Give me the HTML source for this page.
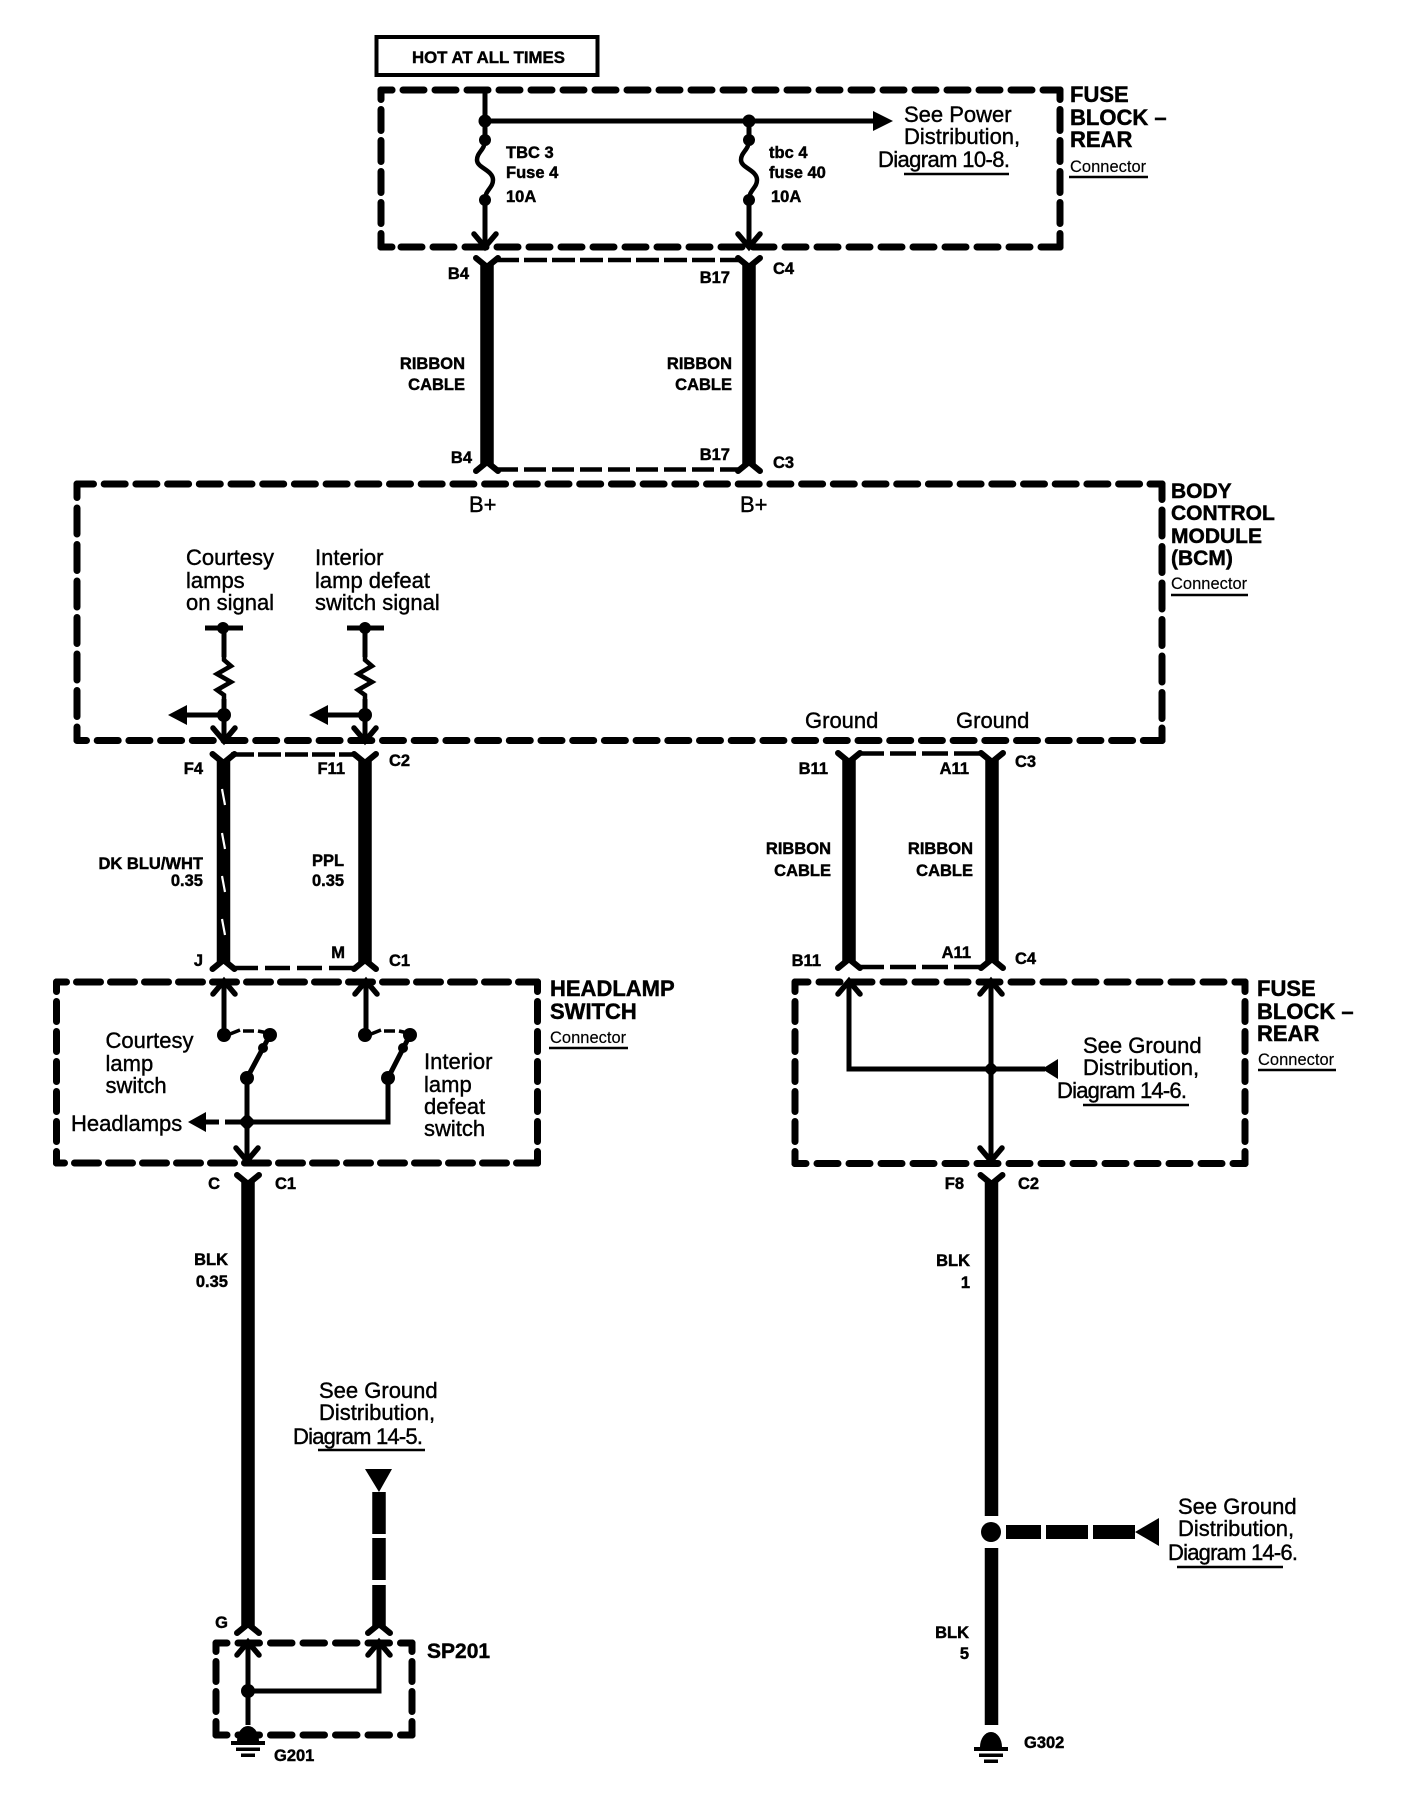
<!DOCTYPE html>
<html><head><meta charset="utf-8"><style>
html,body{margin:0;padding:0;background:#fff}
svg{display:block}
text{font-family:"Liberation Sans",sans-serif;fill:#000}
.b{font-weight:bold;font-size:16.5px;stroke:#000;stroke-width:.45}
.t{font-weight:bold;font-size:22px;stroke:#000;stroke-width:.45}
.r{font-size:22px;stroke:#000;stroke-width:.4}
.c{font-size:16.5px;stroke:#000;stroke-width:.15}
.e{text-anchor:end}
.d{fill:none;stroke:#000;stroke-width:7;stroke-linecap:round}
.s{fill:none;stroke:#000;stroke-width:4.5}
.w{fill:none;stroke:#000;stroke-width:13.5}
.l{fill:none;stroke:#000;stroke-width:5}
.a{fill:none;stroke:#000;stroke-width:5.5;stroke-linecap:round}
.u{fill:none;stroke:#000;stroke-width:2.4}
</style></head><body>
<svg xmlns="http://www.w3.org/2000/svg" width="1408" height="1798" viewBox="0 0 1408 1798">
<rect width="1408" height="1798" fill="#fff"/>
<defs>
<path id="dn" class="a" d="M-11 -13L0 0L11 -13"/>
<path id="up" class="a" d="M-11 13L0 0L11 13"/>
<path id="yt" fill="none" stroke="#000" stroke-width="6" stroke-linecap="round" d="M-11 0L0 9L11 0"/>
<path id="yb" fill="none" stroke="#000" stroke-width="6" stroke-linecap="round" d="M-11 0L0 -9L11 0"/>
<path id="res" fill="none" stroke="#000" stroke-width="4.5" d="M0 0L0 3L7 9L-7 17L7 25L-7 33L0 38L0 42"/>
<path id="fuse" fill="none" stroke="#000" stroke-width="4.5" d="M0 0C0 10 -8 12 -8 20C-8 28 8 30 8 40C8 48 0 50 0 60"/>
<g id="gnd"><path d="M-11 0A11 15 0 0 1 11 0Z"/><rect x="-17" y="0" width="34" height="4"/><rect x="-12" y="6.500" width="24" height="3.500"/><rect x="-7" y="12.500" width="14" height="3.500"/></g>
</defs>

<!-- HOT box -->
<rect x="376.500" y="37" width="221" height="38" fill="none" stroke="#000" stroke-width="4"/>
<text class="b" x="412" y="63" style="font-size:16.800px">HOT AT ALL TIMES</text>

<!-- Fuse block top -->
<path class="d" stroke-dasharray="21 11" stroke-dashoffset="10" d="M381 90H1060"/>
<path class="d" stroke-dasharray="21 11" stroke-dashoffset="12" d="M381 247H1060"/>
<path class="d" stroke-dasharray="21 10" stroke-dashoffset="11.500" d="M381 90V247"/>
<path class="d" stroke-dasharray="21 10" stroke-dashoffset="11.500" d="M1060 90V247"/>
<path class="d" d="M381 90H392M381 90V98M381 247H392M381 247V236M1060 90H1050M1060 90V98M1060 247H1050M1060 247V236"/>
<path class="l" d="M485 90V140M485 200V245M749 121V140M749 200V245"/>
<path class="l" d="M485 121H876"/>
<path d="M873 111L893 121L873 131Z"/>
<use href="#fuse" x="485" y="140"/><use href="#fuse" x="749" y="140"/>
<g><circle cx="485" cy="121" r="6.500"/><circle cx="749" cy="121" r="6.500"/><circle cx="485" cy="140" r="6"/><circle cx="749" cy="140" r="6"/><circle cx="485" cy="200" r="6"/><circle cx="749" cy="200" r="6"/></g>
<use href="#dn" x="485" y="247"/><use href="#dn" x="749" y="247"/>
<text class="b" x="506" y="158">TBC 3</text><text class="b" x="506" y="178">Fuse 4</text><text class="b" x="506" y="202">10A</text>
<text class="b" x="769" y="158">tbc 4</text><text class="b" x="769" y="178">fuse 40</text><text class="b" x="771" y="202">10A</text>
<text class="r" x="904" y="122">See Power</text><text class="r" x="904" y="144">Distribution,</text><text class="r" x="878" y="167" textLength="132">Diagram 10-8.</text>
<path class="u" d="M904 174H1009"/>
<text class="t" x="1070" y="102">FUSE</text><text class="t" x="1070" y="125">BLOCK –</text><text class="t" x="1070" y="147">REAR</text>
<text class="c" x="1070" y="172">Connector</text><path class="u" d="M1069 177H1148"/>

<!-- Ribbon 1 -->
<path class="w" d="M487 264V465M749 264V465"/>
<path class="s" stroke-dasharray="23 5" d="M496 260H740"/>
<path class="s" stroke-dasharray="22 6" d="M496 469.500H740"/>
<use href="#yt" x="487" y="258"/><use href="#yt" x="749" y="258"/><use href="#yb" x="487" y="471"/><use href="#yb" x="749" y="471"/>
<text class="b e" x="469" y="279">B4</text><text class="b e" x="730" y="283">B17</text><text class="b" x="773" y="274">C4</text>
<text class="b e" x="465" y="369">RIBBON</text><text class="b e" x="465" y="390">CABLE</text>
<text class="b e" x="732" y="369">RIBBON</text><text class="b e" x="732" y="390">CABLE</text>
<text class="b e" x="472" y="463">B4</text><text class="b e" x="730" y="460">B17</text><text class="b" x="773" y="468">C3</text>

<!-- BCM -->
<path class="d" stroke-dasharray="21 10.700" stroke-dashoffset="4.500" d="M77 484H1162"/>
<path class="d" stroke-dasharray="21 10.700" stroke-dashoffset="11.500" d="M77 740.500H1162"/>
<path class="d" stroke-dasharray="26 10.500" stroke-dashoffset="12.500" d="M77 484V740"/>
<path class="d" stroke-dasharray="26 10.500" stroke-dashoffset="10.500" d="M1162 484V740"/>
<path class="d" d="M77 740V728M1162 740V728M1162 740.500H1150M1162 484H1150"/>
<text class="r" x="469" y="512">B+</text><text class="r" x="740" y="512">B+</text>
<text class="t" x="1171" y="498" style="font-size:21px">BODY</text><text class="t" x="1171" y="520" style="font-size:21px">CONTROL</text><text class="t" x="1171" y="543" style="font-size:21px">MODULE</text><text class="t" x="1171" y="565" style="font-size:21px">(BCM)</text>
<text class="c" x="1171" y="589">Connector</text><path class="u" d="M1171 595H1248"/>
<text class="r" x="186" y="565">Courtesy</text><text class="r" x="186" y="588">lamps</text><text class="r" x="186" y="610">on signal</text>
<text class="r" x="315" y="565">Interior</text><text class="r" x="315" y="588">lamp defeat</text><text class="r" x="315" y="610">switch signal</text>
<path class="l" d="M205 628H243M224 628V657M224 699V740M187 715H224M347 628H384M365 628V657M365 699V740M328 715H365"/>
<use href="#res" x="224" y="657"/><use href="#res" x="365" y="657"/>
<circle cx="223" cy="628" r="6"/><circle cx="365" cy="628" r="6"/><circle cx="224" cy="715" r="7"/><circle cx="365" cy="715" r="7"/>
<path d="M168 715L187 705V725ZM309 715L328 705V725Z"/>
<use href="#dn" x="224" y="741"/><use href="#dn" x="365" y="741"/>

<!-- F4 F11 wires -->
<path class="w" d="M223.500 760V964M365 760V964"/>
<path class="s" stroke-dasharray="23 4" d="M231 754.500H356"/>
<path class="s" stroke-dasharray="25 7" d="M233 968H356"/>
<use href="#yt" x="223.500" y="754"/><use href="#yt" x="365" y="754"/><use href="#yb" x="223.500" y="969"/><use href="#yb" x="365" y="969"/>
<path fill="none" stroke="#fff" stroke-width="2.200" d="M222 789L225 805M222 833L225 849M222 876L225 892M222 919L225 935"/>
<text class="b e" x="203" y="774">F4</text><text class="b e" x="345" y="774">F11</text><text class="b" x="389" y="766">C2</text>
<text class="b e" x="203" y="869">DK BLU/WHT</text><text class="b e" x="203" y="886">0.35</text>
<text class="b" x="312" y="866">PPL</text><text class="b" x="312" y="886">0.35</text>
<text class="b e" x="203" y="966">J</text><text class="b e" x="345" y="958">M</text><text class="b" x="389" y="966">C1</text>

<!-- Headlamp switch -->
<path class="d" stroke-dasharray="24 10" stroke-dashoffset="14" d="M56.500 982H537.500"/>
<path class="d" stroke-dasharray="24 10" stroke-dashoffset="16" d="M56.500 1163H537.500"/>
<path class="d" stroke-dasharray="20 10" stroke-dashoffset="10.500" d="M56.500 982V1163"/>
<path class="d" stroke-dasharray="20 10" stroke-dashoffset="10.500" d="M537.500 982V1163"/>
<path class="d" d="M56.500 1163V1152M537.500 1163V1152M537.500 982H528M537.500 1163H528"/>
<use href="#up" x="224" y="981"/><use href="#up" x="366" y="981"/>
<path class="l" d="M224 981V1035M366 981V1035M247 1078V1160M225 1122H388V1078M202 1122H219"/>
<path class="l" d="M270 1035L247 1078M410 1035L388 1078"/>
<path fill="none" stroke="#000" stroke-width="3.500" d="M230 1034L240 1030M243 1031H254M258 1031L268 1033M371 1034L381 1030M384 1031H395M399 1031L408 1033"/>
<circle cx="224" cy="1035" r="7"/><circle cx="270" cy="1035" r="7"/><circle cx="263" cy="1048" r="5"/><circle cx="247" cy="1078" r="7"/>
<circle cx="365" cy="1035" r="7"/><circle cx="410" cy="1035" r="7"/><circle cx="403" cy="1048" r="5"/><circle cx="388" cy="1078" r="7"/>
<path d="M247 1113L256 1122L247 1131L238 1122Z"/>
<path d="M188 1122L206 1112V1132Z"/>
<use href="#dn" x="247" y="1161"/>
<text class="r" x="105.500" y="1048">Courtesy</text><text class="r" x="105.500" y="1071">lamp</text><text class="r" x="105.500" y="1093">switch</text>
<text class="r" x="424" y="1069">Interior</text><text class="r" x="424" y="1092">lamp</text><text class="r" x="424" y="1114">defeat</text><text class="r" x="424" y="1136">switch</text>
<text class="r" x="71" y="1131">Headlamps</text>
<text class="t" x="550" y="996">HEADLAMP</text><text class="t" x="550" y="1019">SWITCH</text>
<text class="c" x="550" y="1043">Connector</text><path class="u" d="M549 1048H628"/>

<!-- Lower left -->
<path class="w" d="M248 1181V1627"/><use href="#yt" x="248" y="1175"/><use href="#yb" x="248" y="1633"/>
<text class="b e" x="220" y="1189">C</text><text class="b" x="275" y="1189">C1</text>
<text class="b e" x="228" y="1265">BLK</text><text class="b e" x="228" y="1287">0.35</text>
<text class="r" x="319" y="1398">See Ground</text><text class="r" x="319" y="1420">Distribution,</text><text class="r" x="293" y="1444" textLength="130">Diagram 14-5.</text>
<path class="u" d="M318 1450H425"/>
<path d="M365 1469H392L379 1492Z"/>
<path class="w" d="M379 1492V1534M379 1538V1580M379 1585V1627"/><use href="#yb" x="379" y="1633"/>
<text class="b e" x="228" y="1628">G</text>

<!-- SP201 -->
<path class="d" stroke-dasharray="21.500 11" stroke-dashoffset="10.500" d="M216 1643H412"/>
<path class="d" stroke-dasharray="21.500 11" stroke-dashoffset="10.500" d="M216 1735H412"/>
<path class="d" stroke-dasharray="20 10" stroke-dashoffset="11.500" d="M216 1643V1735"/>
<path class="d" stroke-dasharray="20 10" stroke-dashoffset="11.500" d="M412 1643V1735"/>
<path class="d" d="M216 1735V1725M412 1735V1725M412 1735H402M412 1643H402"/>
<use href="#up" x="248" y="1642"/><use href="#up" x="379" y="1642"/>
<path class="l" d="M248 1642V1725M379 1642V1691H248"/>
<circle cx="248" cy="1691" r="7"/>
<use href="#gnd" x="248" y="1741"/>
<text class="t" x="427" y="1658" style="font-size:21px">SP201</text>
<text class="b" x="274" y="1761">G201</text>

<!-- Right ribbon -->
<text class="r" x="805" y="728">Ground</text><text class="r" x="956" y="728">Ground</text>
<path class="w" d="M849 759V963M992 759V963"/>
<path class="s" stroke-dasharray="26 6" d="M858 753.500H983"/>
<path class="s" stroke-dasharray="26 6" d="M858 967H983"/>
<use href="#yt" x="849" y="753"/><use href="#yt" x="992" y="753"/><use href="#yb" x="849" y="968"/><use href="#yb" x="992" y="968"/>
<text class="b e" x="828" y="774">B11</text><text class="b e" x="969" y="774">A11</text><text class="b" x="1015" y="767">C3</text>
<text class="b e" x="831" y="854">RIBBON</text><text class="b e" x="831" y="876">CABLE</text>
<text class="b e" x="973" y="854">RIBBON</text><text class="b e" x="973" y="876">CABLE</text>
<text class="b e" x="821" y="966">B11</text><text class="b e" x="971" y="958">A11</text><text class="b" x="1015" y="964">C4</text>

<!-- Fuse block lower -->
<path class="d" stroke-dasharray="21 11" stroke-dashoffset="8" d="M795 982H1245"/>
<path class="d" stroke-dasharray="21 11" stroke-dashoffset="10" d="M795 1163.500H1245"/>
<path class="d" stroke-dasharray="20 10" stroke-dashoffset="10.500" d="M795 982V1163.500"/>
<path class="d" stroke-dasharray="20 10" stroke-dashoffset="10.500" d="M1245 982V1163.500"/>
<path class="d" d="M795 1163.500V1152M1245 1163.500V1152M1245 982H1235M1245 1163.500H1235"/>
<use href="#up" x="849" y="981"/><use href="#up" x="991" y="981"/>
<path class="l" d="M849 981V1069H1045M991 981V1160"/>
<path d="M991 1061L999 1069L991 1077L983 1069Z"/>
<path d="M1042 1069L1058 1059V1079Z"/>
<use href="#dn" x="991" y="1161"/>
<text class="r" x="1083" y="1053">See Ground</text><text class="r" x="1083" y="1075">Distribution,</text><text class="r" x="1057" y="1098" textLength="130">Diagram 14-6.</text>
<path class="u" d="M1083 1105H1189"/>
<text class="t" x="1257" y="996">FUSE</text><text class="t" x="1257" y="1019">BLOCK –</text><text class="t" x="1257" y="1041">REAR</text>
<text class="c" x="1258" y="1065">Connector</text><path class="u" d="M1258 1070H1336"/>
<use href="#yt" x="991.500" y="1175"/><path class="w" d="M991.500 1181V1516M991.500 1548V1725"/>
<text class="b e" x="964" y="1189">F8</text><text class="b" x="1018" y="1189">C2</text>
<text class="b e" x="970" y="1266">BLK</text><text class="b e" x="970" y="1288">1</text>
<circle cx="991" cy="1532" r="10"/>
<path d="M1006 1525H1041V1539H1006ZM1046 1525H1088V1539H1046ZM1093 1525H1135V1539H1093ZM1135 1532L1159 1518V1546Z"/>
<text class="r" x="1178" y="1514">See Ground</text><text class="r" x="1178" y="1536">Distribution,</text><text class="r" x="1168" y="1560" textLength="130">Diagram 14-6.</text>
<path class="u" d="M1177 1567H1283"/>
<text class="b e" x="969" y="1638">BLK</text><text class="b e" x="969" y="1659">5</text>
<use href="#gnd" x="991" y="1747"/>
<text class="b" x="1024" y="1748">G302</text>
</svg>
</body></html>
